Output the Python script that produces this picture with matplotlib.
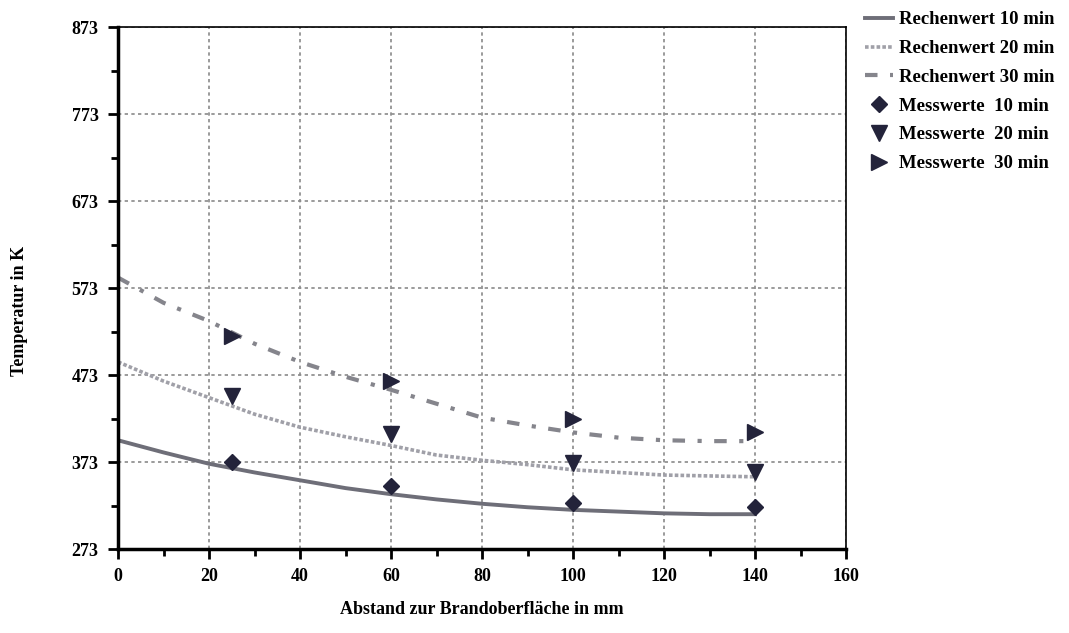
import numpy as np
import matplotlib
matplotlib.use('Agg')
import matplotlib.pyplot as plt
from matplotlib.ticker import MultipleLocator, FixedLocator

plt.rcParams['font.family'] = ['Liberation Serif', 'DejaVu Serif']
plt.rcParams['font.weight'] = 'bold'

# computed curves (Rechenwerte)
x_calc = [0, 10, 20, 30, 40, 50, 60, 70, 80, 90, 100, 110, 120, 130, 140]
calc_10 = [398, 384, 371, 361, 352, 343, 336, 330, 325, 321, 318, 316, 314, 313, 313]
calc_20 = [488, 466, 447, 428, 413, 402, 392, 381, 375, 370, 364, 361, 358, 357, 356]
calc_30 = [585, 556, 535, 509, 488, 471, 456, 440, 424, 415, 407, 401, 398, 397, 397]

# measured values (Messwerte)
x_meas = [25, 60, 100, 140]
meas_10 = [373, 345, 326, 321]
meas_20 = [449, 405, 372, 362]
meas_30 = [518, 466, 422, 408]

line_col = '#6e6e78'
mark_col = '#23233a'

fig = plt.figure(figsize=(10.69, 6.33), dpi=100)
ax = fig.add_axes([0.1104, 0.1327, 0.6810, 0.8246])

ax.plot(x_calc, calc_10, color=line_col, lw=2.8, ls='-', label='Rechenwert 10 min')
ax.plot(x_calc, calc_20, color='#a0a0a8', lw=2.6, ls=(0, (1, 0.6)), label='Rechenwert 20 min')
ax.plot(x_calc, calc_30, color='#85858c', lw=3, ls=(0, (3, 3, 1, 3)), label='Rechenwert 30 min')
ax.plot(x_meas, meas_10, 'D', color=mark_col, ms=8, ls='none', label='Messwerte  10 min')
ax.plot(x_meas, meas_20, 'v', color=mark_col, ms=12, ls='none', label='Messwerte  20 min')
ax.plot(x_meas, meas_30, '>', color=mark_col, ms=12, ls='none', label='Messwerte  30 min')

ax.set_xlim(0, 160)
ax.set_ylim(273, 873)
ax.xaxis.set_major_locator(MultipleLocator(20))
ax.xaxis.set_minor_locator(MultipleLocator(10))
ax.yaxis.set_major_locator(FixedLocator(np.arange(273, 874, 100)))
ax.yaxis.set_minor_locator(FixedLocator(np.arange(323, 874, 100)))
ax.tick_params(which='major', direction='out', length=7, width=2, labelsize=13, pad=7)
ax.tick_params(which='minor', direction='out', length=5, width=2)

ax.grid(True, which='major', color='#8a8a8a', ls=(0, (2, 2)), lw=1.2)

for side in ['left', 'bottom']:
    ax.spines[side].set_linewidth(2.5)
for side in ['top', 'right']:
    ax.spines[side].set_linewidth(1.2)

ax.set_xlabel('Abstand zur Brandoberfläche in mm', fontsize=13, fontweight='bold')
ax.set_ylabel('Temperatur in K', fontsize=13, fontweight='bold')
ax.xaxis.set_label_coords(0.5, -0.1)
ax.yaxis.set_label_coords(-0.124, 0.457)

fig.legend(loc='upper left', bbox_to_anchor=(0.797, 1.003), frameon=False,
           fontsize=13.5, handlelength=1.5, handletextpad=0.3, labelspacing=0.62,
           borderpad=0.2)

fig.savefig('out.png', dpi=100, facecolor='white')
